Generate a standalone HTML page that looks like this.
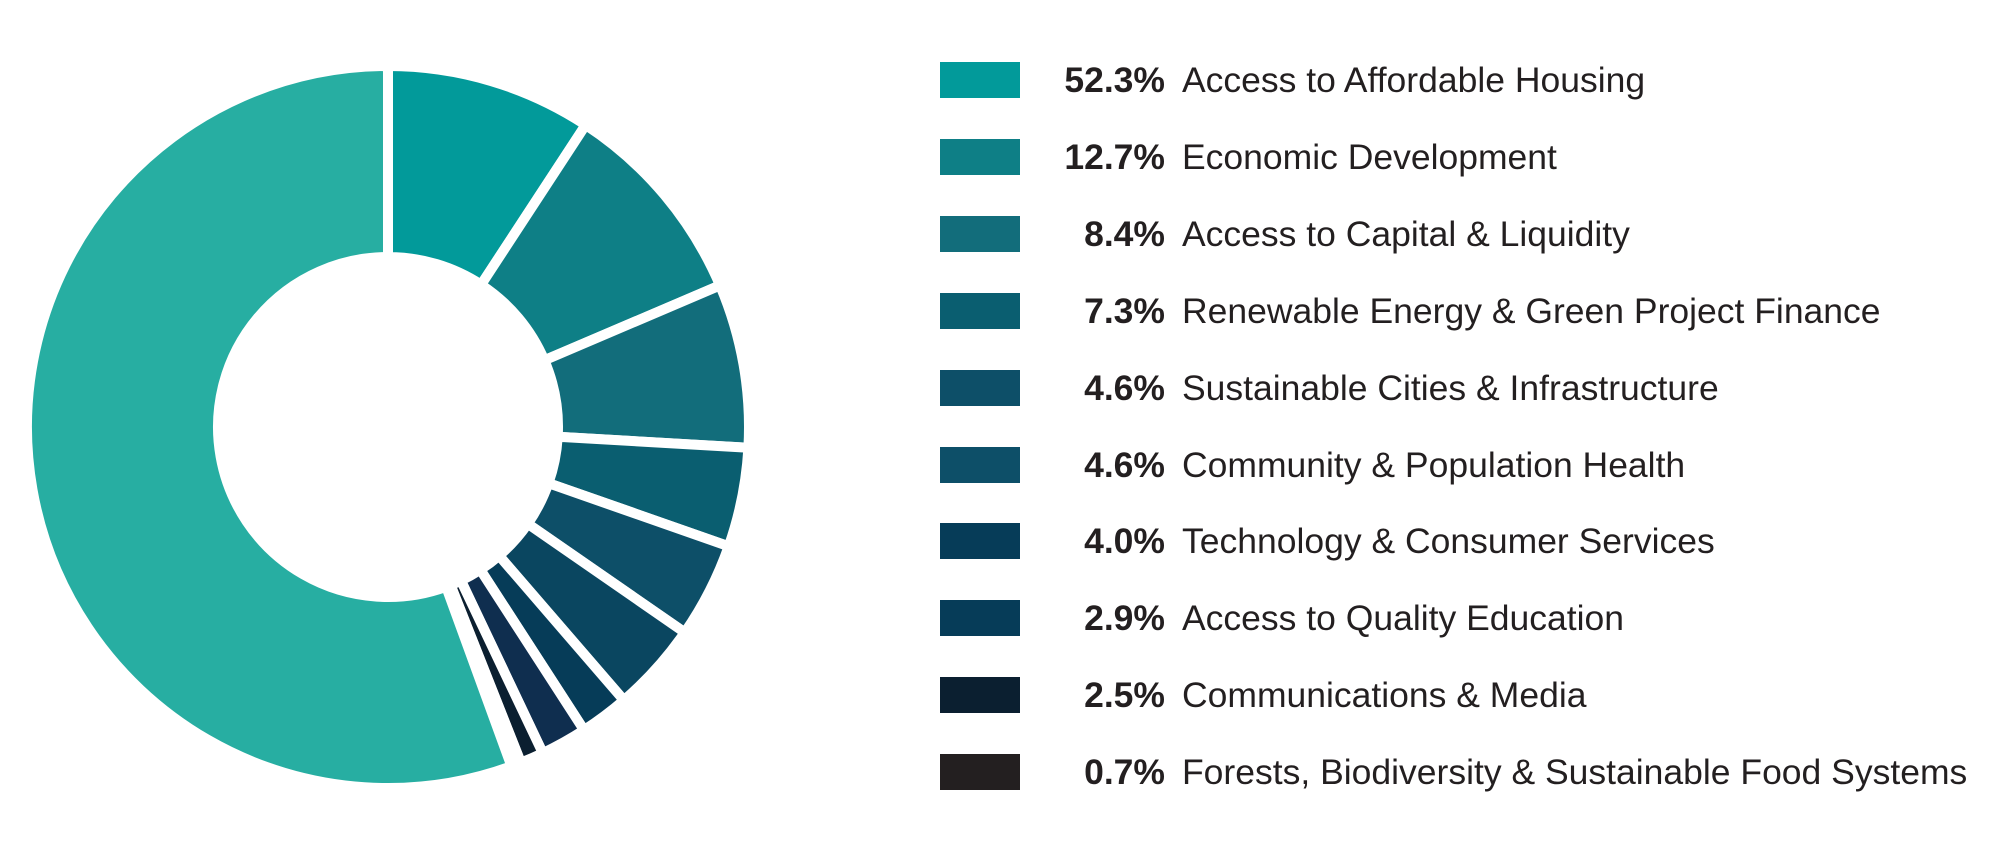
<!DOCTYPE html>
<html><head><meta charset="utf-8"><style>
html,body{margin:0;padding:0;background:#fff;}
body{width:2000px;height:866px;overflow:hidden;position:relative;font-family:"Liberation Sans",sans-serif;color:#231f20;}
.row{position:absolute;left:940px;height:38px;}
.sw{position:absolute;left:0;top:0;width:80px;height:36px;}
.pct{position:absolute;left:85px;width:140px;text-align:right;font-weight:bold;font-size:35.5px;line-height:36px;white-space:nowrap;left:85px;}
.lab{position:absolute;left:242px;font-size:35.5px;line-height:36px;white-space:nowrap;}
</style></head><body>
<svg id="d" width="800" height="866" style="position:absolute;left:0;top:0"></svg>
<div id="leg"></div>
<script>
var cx=388,cy=427,R=361,r=170;
var b=[0,33.2,66.9,93.3,109.3,124.7,139.2,147.1,154.6,158.4,160,360];
var cols=["#029a9a","#0e7f86","#126d7b","#0a5e70","#0d4f68","#0a4660","#063c58","#0f2e4f","#0b1f30","#231f20","#27aea2"];
function p(a,rad){var t=(a-90)*Math.PI/180;return [cx+rad*Math.cos(t),cy+rad*Math.sin(t)];}
var s="";
for(var i=0;i<cols.length;i++){var a0=b[i],a1=b[i+1],lg=(a1-a0)>180?1:0;
var A=p(a0,R),B=p(a1,R),C=p(a1,r),D=p(a0,r);
s+='<path d="M'+A+' A'+R+' '+R+' 0 '+lg+' 1 '+B+' L'+C+' A'+r+' '+r+' 0 '+lg+' 0 '+D+' Z" fill="'+cols[i]+'" stroke="#fff" stroke-width="10" stroke-linejoin="miter"/>';}
document.getElementById('d').innerHTML=s;
var L=[["52.3%","Access to Affordable Housing","#029a9a"],["12.7%","Economic Development","#0e7f86"],["8.4%","Access to Capital &amp; Liquidity","#126d7b"],["7.3%","Renewable Energy &amp; Green Project Finance","#0a5e70"],["4.6%","Sustainable Cities &amp; Infrastructure","#0d4f68"],["4.6%","Community &amp; Population Health","#0d4f68"],["4.0%","Technology &amp; Consumer Services","#063c58"],["2.9%","Access to Quality Education","#063c58"],["2.5%","Communications &amp; Media","#0b1f30"],["0.7%","Forests, Biodiversity &amp; Sustainable Food Systems","#231f20"]];
var h="";
for(var j=0;j<L.length;j++){var y=62+j*76.9;
h+='<div class="row" style="top:'+y+'px"><div class="sw" style="background:'+L[j][2]+'"></div><div class="pct">'+L[j][0]+'</div><div class="lab">'+L[j][1]+'</div></div>';}
document.getElementById('leg').innerHTML=h;
</script>
</body></html>
